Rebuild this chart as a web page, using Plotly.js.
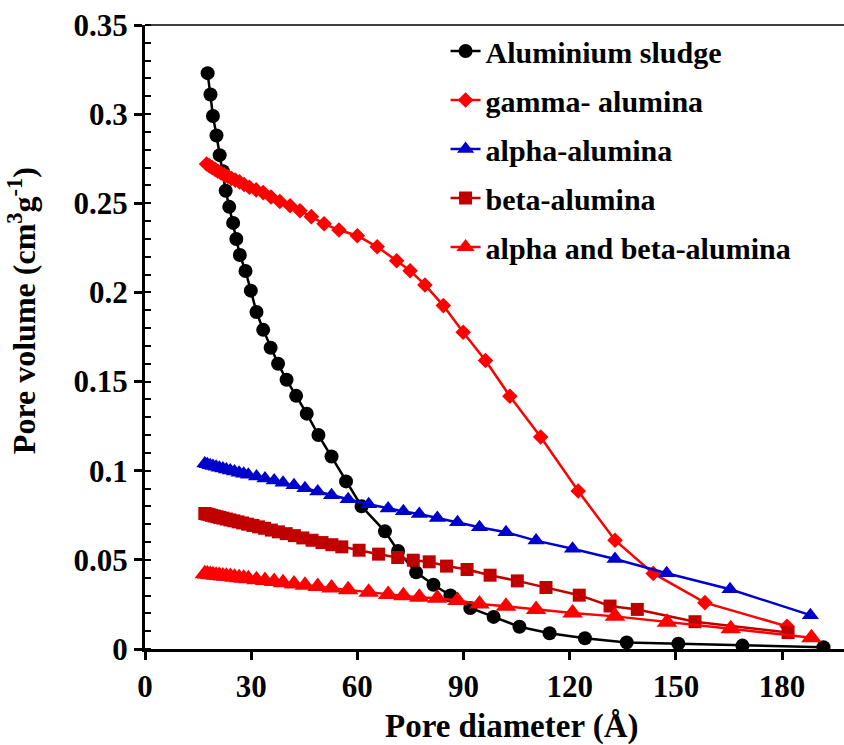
<!DOCTYPE html>
<html>
<head>
<meta charset="utf-8">
<script src="https://cdn.plot.ly/plotly-3.0.1.min.js"></script>
<style>html,body{margin:0;padding:0;background:#fff;}#chart{width:844px;height:745px;}</style>
</head>
<body>
<div id="chart"></div>
<script>
// Series names
const seriesNames = ["Aluminium sludge", "gamma- alumina", "alpha-alumina", "beta-alumina", "alpha and beta-alumina"];

// Aluminium sludge
const sludgeX = [17.7, 18.5, 19.2, 20.2, 21.1, 22.0, 22.8, 23.8, 24.9, 25.8, 26.8, 28.4, 29.9, 31.5, 33.4, 35.5, 37.6, 40.0, 42.7, 45.7, 49.0, 52.7, 56.8, 61.2, 67.8, 71.5, 76.6, 81.5, 86.3, 91.9, 98.5, 105.8, 114.3, 124.3, 136.1, 150.7, 168.8, 191.7];
const sludgeY = [0.323, 0.311, 0.299, 0.288, 0.277, 0.268, 0.257, 0.248, 0.239, 0.230, 0.221, 0.212, 0.201, 0.189, 0.179, 0.169, 0.160, 0.151, 0.142, 0.132, 0.120, 0.108, 0.094, 0.080, 0.066, 0.055, 0.043, 0.036, 0.030, 0.023, 0.018, 0.0125, 0.0088, 0.006, 0.0037, 0.003, 0.0019, 0.0010];

// gamma- alumina
const gammaX = [17.4, 18.2, 19.0, 19.8, 20.6, 21.5, 22.4, 23.4, 24.4, 25.5, 26.7, 28.0, 29.5, 31.4, 33.4, 35.6, 38.1, 41.0, 43.8, 47.0, 50.6, 54.8, 60.0, 65.6, 71.1, 74.9, 79.1, 84.3, 89.9, 96.2, 103.1, 111.8, 122.4, 132.8, 143.6, 158.2, 181.4];
const gammaY = [0.272, 0.271, 0.270, 0.269, 0.268, 0.267, 0.266, 0.265, 0.264, 0.263, 0.262, 0.2605, 0.259, 0.2575, 0.256, 0.2535, 0.251, 0.2486, 0.2458, 0.2425, 0.2385, 0.235, 0.2318, 0.2256, 0.2178, 0.2122, 0.2042, 0.1926, 0.1777, 0.1618, 0.1418, 0.1189, 0.0886, 0.061, 0.0424, 0.026, 0.0127];

// alpha-alumina
const alphaX = [16.9, 17.6, 18.4, 19.2, 20.1, 21.0, 22.0, 23.0, 24.1, 25.3, 26.6, 27.9, 29.2, 31.5, 33.9, 36.5, 39.0, 42.1, 45.2, 48.8, 52.7, 57.4, 63.2, 68.7, 73.0, 77.5, 82.6, 88.3, 94.5, 102.0, 110.5, 120.8, 132.8, 147.4, 165.3, 188.0];
const alphaY = [0.1040, 0.1036, 0.1031, 0.1027, 0.1022, 0.1017, 0.1012, 0.1007, 0.1001, 0.0995, 0.0989, 0.0983, 0.0977, 0.0967, 0.0957, 0.0945, 0.0932, 0.0918, 0.0902, 0.0883, 0.0862, 0.0840, 0.0812, 0.0788, 0.0772, 0.0757, 0.0735, 0.0711, 0.0683, 0.0655, 0.0608, 0.0562, 0.0505, 0.0425, 0.0335, 0.0190];

// beta-alumina
const betaX = [16.9, 17.5, 18.1, 18.8, 19.5, 20.3, 21.1, 22.0, 23.0, 24.0, 25.1, 26.3, 27.6, 29.0, 30.5, 32.1, 33.8, 35.7, 37.7, 39.9, 42.2, 44.6, 47.2, 50.0, 52.8, 55.6, 60.5, 66.0, 71.4, 75.8, 80.3, 85.2, 91.0, 97.5, 105.2, 113.3, 122.7, 131.4, 139.1, 155.4, 181.7];
const betaY = [0.0760, 0.0757, 0.0754, 0.0750, 0.0746, 0.0742, 0.0738, 0.0734, 0.0729, 0.0724, 0.0719, 0.0713, 0.0707, 0.0700, 0.0693, 0.0685, 0.0677, 0.0667, 0.0657, 0.0647, 0.0636, 0.0623, 0.0610, 0.0597, 0.0585, 0.0573, 0.0554, 0.0532, 0.0513, 0.0498, 0.0489, 0.0465, 0.0446, 0.0414, 0.0382, 0.0345, 0.0302, 0.0241, 0.0222, 0.0153, 0.0092];

// alpha and beta-alumina
const alphaBetaX = [16.9, 17.6, 18.4, 19.2, 20.1, 21.0, 22.0, 23.0, 24.1, 25.3, 26.6, 27.9, 29.2, 31.5, 33.9, 36.5, 39.0, 42.1, 45.2, 48.8, 52.7, 57.4, 63.2, 68.7, 73.0, 77.5, 82.6, 88.3, 94.5, 102.0, 110.5, 120.8, 132.8, 147.5, 165.5, 188.3];
const alphaBetaY = [0.0422, 0.0420, 0.0418, 0.0416, 0.0414, 0.0412, 0.0410, 0.0408, 0.0406, 0.0403, 0.0400, 0.0397, 0.0394, 0.0389, 0.0384, 0.0378, 0.0372, 0.0365, 0.0358, 0.0350, 0.0342, 0.0333, 0.0318, 0.0305, 0.0298, 0.0290, 0.0284, 0.0272, 0.0252, 0.0240, 0.0222, 0.0202, 0.0183, 0.0150, 0.0113, 0.0063];

// Axis ticks and titles
const xTickVals = [0, 30, 60, 90, 120, 150, 180];
const xTickText = ["0", "30", "60", "90", "120", "150", "180"];
const yTickVals = [0, 0.05, 0.1, 0.15, 0.2, 0.25, 0.3, 0.35];
const yTickText = ["0", "0.05", "0.1", "0.15", "0.2", "0.25", "0.3", "0.35"];
const xTitle = "Pore diameter (Å)";
const yTitle = "Pore volume (cm<sup>3</sup>g<sup>-1</sup>)";

const FONT = "Liberation Serif, Times New Roman, serif";

function mk(name, x, y, color, symbol, size, group) {
  return {
    type: "scatter", mode: "lines+markers", name: name, x: x, y: y,
    legendgroup: group,
    line: {color: color, width: 2.5},
    marker: {color: color, symbol: symbol, size: size, line: {width: 0}}
  };
}

const traces = [
  mk(seriesNames[0], sludgeX, sludgeY, "#000000", "circle", 14, "g1"),
  mk(seriesNames[1], gammaX, gammaY, "#FF0000", "diamond", 12, "g2"),
  mk(seriesNames[2], alphaX, alphaY, "#0000CC", "triangle-up", 15, "g3"),
  mk(seriesNames[3], betaX, betaY, "#C00000", "square", 13, "g4"),
  mk(seriesNames[4], alphaBetaX, alphaBetaY, "#FF0000", "triangle-up", 18, "g5")
];

const layout = {
  width: 844, height: 745,
  margin: {l: 145, r: 0, t: 25, b: 96},
  paper_bgcolor: "#ffffff", plot_bgcolor: "#ffffff",
  font: {family: FONT, color: "#000000"},
  showlegend: true,
  legend: {
    x: 0.43, y: 1.0, xanchor: "left", yanchor: "top",
    font: {family: FONT, size: 30, weight: "bold", color: "#000"},
    bgcolor: "rgba(255,255,255,0)", borderwidth: 0,
    tracegroupgap: 7
  },
  xaxis: {
    range: [0, 197.5], showgrid: false, zeroline: false,
    showline: true, linecolor: "#000", linewidth: 3,
    ticks: "outside", ticklen: 8, tickwidth: 3, tickcolor: "#000",
    tickmode: "array", tickvals: xTickVals, ticktext: xTickText,
    tickfont: {family: FONT, size: 31, weight: "bold"}
  },
  yaxis: {
    range: [0, 0.35], showgrid: false, zeroline: false,
    showline: true, linecolor: "#000", linewidth: 3,
    ticks: "outside", ticklen: 8, tickwidth: 3, tickcolor: "#000",
    tickmode: "array", tickvals: yTickVals, ticktext: yTickText,
    tickfont: {family: FONT, size: 31, weight: "bold"},
    minor: {tickmode: "linear", tick0: 0, dtick: 0.01, ticks: "inside", ticklen: 6, tickwidth: 2, tickcolor: "#000", showgrid: false}
  },
  annotations: [
    {text: xTitle, xref: "paper", yref: "paper", x: 0.525, y: -0.124, xanchor: "center", yanchor: "middle",
     showarrow: false, font: {family: FONT, size: 33, weight: "bold", color: "#000"}},
    {text: yTitle, xref: "paper", yref: "paper", x: -0.176, y: 0.543, xanchor: "center", yanchor: "middle",
     textangle: -90, showarrow: false, font: {family: FONT, size: 32, weight: "bold", color: "#000"}}
  ],
  shapes: [
    {type: "line", xref: "paper", yref: "paper", x0: 0, x1: 1, y0: 1, y1: 1, line: {color: "#000", width: 1.5}}
  ]
};

Plotly.newPlot("chart", traces, layout, {displayModeBar: false, staticPlot: true});
</script>
</body>
</html>
